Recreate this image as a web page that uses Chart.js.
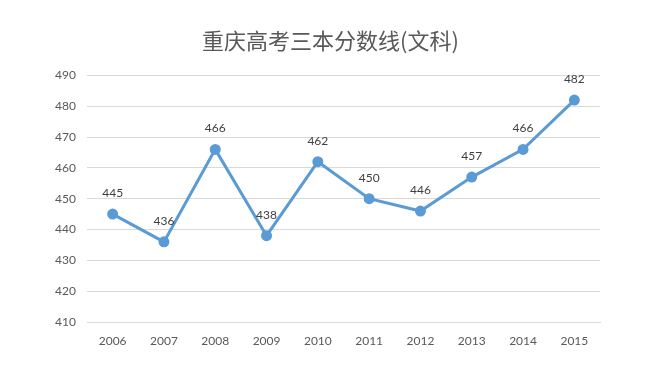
<!DOCTYPE html>
<html>
<head>
<meta charset="utf-8">
<script src="https://cdn.jsdelivr.net/npm/chart.js@4"></script>
<style>
  html, body { margin: 0; padding: 0; background: #ffffff; }
  #wrap { width: 661px; height: 383px; }
</style>
</head>
<body>
<div id="wrap"><canvas id="myChart"></canvas></div>
<script>
const ctx = document.getElementById('myChart')
const years = ["2006", "2007", "2008", "2009", "2010", "2011", "2012", "2013", "2014", "2015"]
const scores = [445, 436, 466, 438, 462, 450, 446, 457, 466, 482]
const titleText = '重庆高考三本分数线(文科)'

// simple labels above each point
const pointLabels = {
    id: 'pointLabels',
    afterDatasetsDraw(chart) {
        const c = chart.ctx
        const meta = chart.getDatasetMeta(0)
        c.save()
        c.font = '12px Lato, "Liberation Sans", sans-serif'
        c.fillStyle = '#404040'
        c.textAlign = 'center'
        c.textBaseline = 'middle'
        meta.data.forEach((pt, i) => {
            c.fillText(scores[i], pt.x, pt.y - 21)
        })
        c.restore()
    }
}

new Chart(ctx, {
    type: 'line',
    data: {
      labels: years,
      datasets: [
        {
            label: '分数线',
            data: scores,
            borderColor: '#5b9bd5',
            backgroundColor: '#5b9bd5',
            borderWidth: 3,
            pointRadius: 4,
            pointHoverRadius: 4,
            tension: 0
        }
      ]
    },
    options: {
        responsive: true,
        maintainAspectRatio: false,
        animation: false,
        layout: { padding: 0 },
        plugins: {
            legend: { display: false },
            tooltip: { enabled: false },
            title: {
              display: true,
              text: titleText,
              color: '#595959',
              font: { family: '"Noto Sans CJK SC", sans-serif', size: 22, weight: 'normal' },
              padding: { top: 27, bottom: 22 }
            },
        },
        scales: {
            y: {
              min: 410,
              max: 490,
              ticks: { stepSize: 10, color: '#595959', padding: 11, font: { family: 'Lato, "Liberation Sans", sans-serif', size: 12 } },
              grid: { color: '#d9d9d9', drawTicks: false },
              border: { display: false },
              afterFit(scale) { scale.width = 87 }
            },
            // empty right axis, only keeps space on the right
            yRight: {
              position: 'right',
              ticks: { display: false },
              grid: { display: false, drawTicks: false },
              border: { display: false },
              afterFit(scale) { scale.width = 61 }
            },
            x: {
              offset: true,
              ticks: { color: '#595959', padding: 12, font: { family: 'Lato, "Liberation Sans", sans-serif', size: 12 } },
              grid: { display: false, drawTicks: false },
              border: { color: '#d9d9d9' },
              afterFit(scale) { scale.height = 61 }
            }
          }
    },
    plugins: [pointLabels]
})
</script>
</body>
</html>
